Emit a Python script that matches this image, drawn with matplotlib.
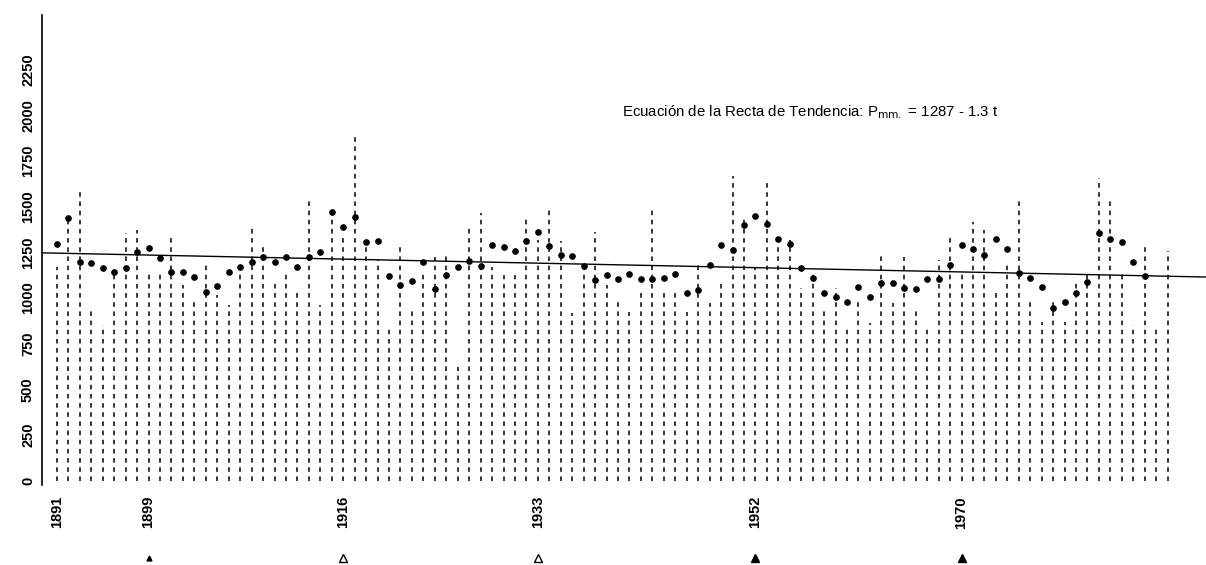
import numpy as np
import matplotlib
matplotlib.use("Agg")
import matplotlib.pyplot as plt
import matplotlib.transforms as mtransforms

plt.rcParams['font.family'] = ['Liberation Sans', 'DejaVu Sans']

# annual precipitation (mm), 1891-1988
years = np.arange(1891, 1989)
annual = [1170, 1430, 1600, 950, 850, 1150, 1355, 1370, 1135, 1135,
          1330, 1070, 990, 1190, 1015, 960, 1155, 1385, 1300, 1100,
          1145, 1045, 1540, 960, 1470, 1330, 1900, 1320, 1210, 835,
          1280, 935, 1145, 1225, 1235, 625, 1385, 1465, 1170, 1125,
          1125, 1435, 1320, 1490, 1310, 920, 1180, 1360, 1070, 990,
          925, 1025, 1490, 1025, 1025, 925, 1200, 975, 1100, 1665,
          1450, 1170, 1645, 1300, 1320, 1055, 1135, 935, 1055, 845,
          1000, 865, 1235, 975, 1225, 935, 845, 1210, 1335, 1135,
          1415, 1370, 1025, 1190, 1535, 990, 870, 980, 870, 1080,
          1135, 1655, 1545, 1150, 850, 1300, 845, 1255]

# smoothed values (dots), 1891-1986
dot_years = np.arange(1891, 1987)
smooth = [1295, 1435, 1195, 1190, 1166, 1140, 1166, 1251, 1273, 1218,
          1142, 1142, 1115, 1034, 1065, 1142, 1171, 1198, 1226, 1198,
          1226, 1171, 1226, 1251, 1472, 1388, 1443, 1306, 1311, 1122,
          1071, 1094, 1198, 1049, 1126, 1171, 1204, 1175, 1290, 1279,
          1257, 1313, 1362, 1284, 1235, 1231, 1175, 1098, 1126, 1102,
          1131, 1104, 1102, 1108, 1131, 1027, 1044, 1180, 1290, 1262,
          1399, 1448, 1404, 1322, 1295, 1164, 1111, 1027, 1007, 978,
          1062, 1007, 1082, 1082, 1053, 1049, 1104, 1104, 1180, 1290,
          1266, 1235, 1322, 1266, 1137, 1108, 1060, 947, 980, 1029,
          1087, 1357, 1322, 1308, 1198, 1122]

# trend: P = 1287 - 1.3 t
a, b, t0 = 1287, 1.3, 1859

tick_years = [1891, 1899, 1916, 1933, 1952, 1970]
yticks = [0, 250, 500, 750, 1000, 1250, 1500, 1750, 2000, 2250]
mark_years = [1899, 1916, 1933, 1952, 1970]
mark_filled = [True, False, False, True, True]

fig = plt.figure(figsize=(12.06, 5.65), dpi=100)
ax = fig.add_axes([0.0348, 0.1416, 0.9652, 0.8314])

ax.vlines(years, 0, annual, colors='black', linewidth=1.1,
          linestyles=(0, (3, 3)))
ax.plot(dot_years, smooth, 'o', color='black', markersize=3.8)

xl = np.array([1889.69, 1991.35])
ax.plot(xl, a - b * (xl - t0), color='black', linewidth=1.0)

ax.set_xlim(xl[0], xl[1])
ax.set_ylim(-22, 2546)

for s in ['top', 'right', 'bottom']:
    ax.spines[s].set_visible(False)
ax.spines['left'].set_linewidth(1.2)

ax.set_xticks(tick_years)
ax.set_xticklabels([str(y) for y in tick_years], rotation=90,
                   fontsize=10.5, fontweight='bold')
ax.set_yticks(yticks)
ax.set_yticklabels([str(v) for v in yticks], rotation=90, va='center',
                   fontsize=10.5, fontweight='bold')
ax.tick_params(axis='x', length=0, pad=8)
ax.tick_params(axis='y', length=0, pad=5)

trans = mtransforms.blended_transform_factory(ax.transData, fig.transFigure)
for yr, filled in zip(mark_years, mark_filled):
    ax.plot(yr, 0.012, marker='^', markersize=6 if yr != 1899 else 3.5,
            color='black', markerfacecolor='black' if filled else 'white',
            markeredgewidth=1.0, transform=trans, clip_on=False)

fig.text(0.516, 0.802,
         r"Ecuación de la Recta de Tendencia: P$_{\mathrm{mm.}}$ = 1287 - 1.3 t",
         fontsize=10.8, va='center', ha='left')

fig.savefig('out.png', dpi=100)
